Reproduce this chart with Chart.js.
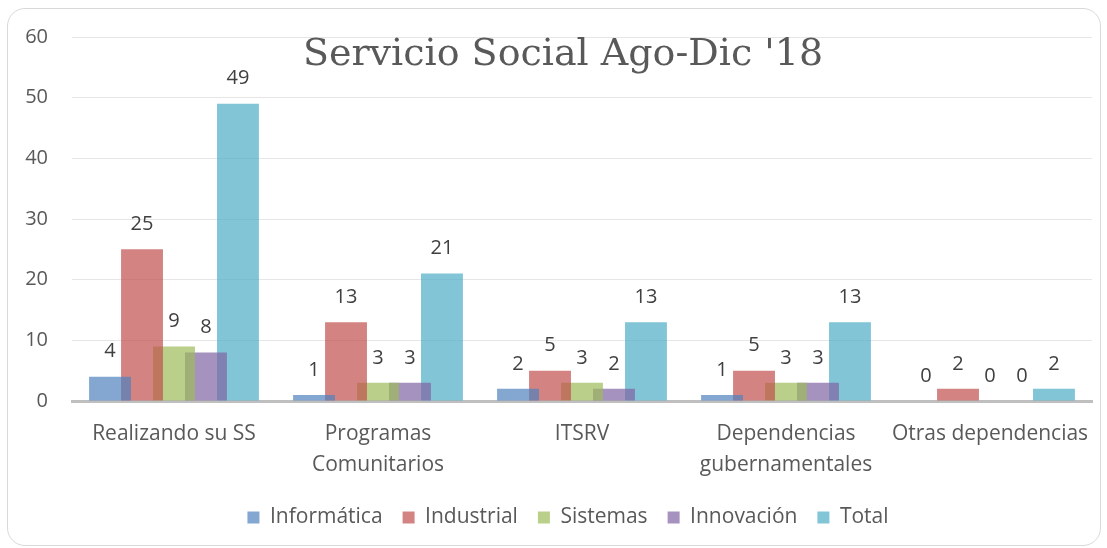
<!DOCTYPE html>
<html>
<head>
<meta charset="utf-8">
<script src="https://cdn.jsdelivr.net/npm/chart.js@4.4.1/dist/chart.umd.min.js"></script>
<style>
  html, body { margin: 0; padding: 0; background: #fff; }
  .frame {
    position: absolute; left: 7px; top: 8px; width: 1092px; height: 536px;
    border: 1.5px solid #d9d9d9; border-radius: 18px;
  }
  .wrap { position: absolute; left: 0; top: 0; width: 1107px; height: 548px; }
</style>
</head>
<body>
<div class="frame"></div>
<div class="wrap"><canvas id="chart"></canvas></div>
<script>
const categories = [
  "Realizando su SS",
  ["Programas", "Comunitarios"],
  "ITSRV",
  ["Dependencias", "gubernamentales"],
  "Otras dependencias",
];
const seriesNames = ["Informática", "Industrial", "Sistemas", "Innovación", "Total"];
const informatica = [4, 1, 2, 1, 0];
const industrial = [25, 13, 5, 5, 2];
const sistemas = [9, 3, 3, 3, 0];
const innovacion = [8, 3, 2, 3, 0];
const total = [49, 21, 13, 13, 2];
const seriesColors = [
  "rgba(79, 129, 189, 0.7)",
  "rgba(192, 80, 77, 0.7)",
  "rgba(155, 187, 89, 0.7)",
  "rgba(128, 100, 162, 0.7)",
  "rgba(75, 172, 198, 0.7)",
];
const titleText = "Servicio Social Ago-Dic '18";

function main() {
  const ctx = document.querySelector("#chart");
  const allValues = [informatica, industrial, sistemas, innovacion, total];

  // etiquetas de valor sobre cada barra
  const valueLabels = {
    id: "valueLabels",
    afterDatasetsDraw(chart) {
      const c = chart.ctx;
      c.save();
      c.font = "20px 'Open Sans'";
      c.fillStyle = "#404040";
      c.textAlign = "center";
      c.textBaseline = "middle";
      chart.data.datasets.forEach((ds, i) => {
        chart.getDatasetMeta(i).data.forEach((bar, j) => {
          c.fillText(String(ds.data[j]), bar.x, bar.y - 25);
        });
      });
      c.restore();
    },
  };

  // título encima del área de datos
  const chartTitle = {
    id: "chartTitle",
    afterDraw(chart) {
      const c = chart.ctx;
      c.save();
      c.font = "38px 'DejaVu Serif'";
      c.fillStyle = "#595959";
      c.textAlign = "center";
      c.textBaseline = "middle";
      c.fillText(titleText, 563, 55);
      c.restore();
    },
  };

  // mover la leyenda un poco a la derecha
  const legendShift = {
    id: "legendShift",
    afterLayout(chart) {
      chart.legend.left += 22;
      chart.legend.right += 22;
    },
  };

  new Chart(ctx, {
    type: "bar",
    data: {
      labels: categories,
      datasets: seriesNames.map((name, i) => ({
        label: name,
        data: allValues[i],
        backgroundColor: seriesColors[i],
        borderWidth: 0,
        categoryPercentage: 0.784,
        barPercentage: 1.31,
      })),
    },
    options: {
      responsive: false,
      animation: false,
      layout: { padding: { top: 37, left: 0, right: 15, bottom: 10 } },
      plugins: {
        title: { display: false },
        tooltip: { enabled: false },
        legend: {
          position: "bottom",
          labels: {
            font: { family: "Open Sans", size: 21 },
            color: "#595959",
            boxWidth: 12,
            boxHeight: 12,
            padding: 20,
          },
        },
      },
      scales: {
        x: {
          grid: { display: false },
          border: { color: "#bfbfbf", width: 3 },
          ticks: {
            font: { family: "Open Sans", size: 21, lineHeight: 1.45 },
            color: "#595959",
            padding: 10,
            maxRotation: 0,
            autoSkip: false,
          },
          afterFit(scale) {
            scale.height = 86;
          },
        },
        y: {
          min: 0,
          max: 60,
          grid: { color: "#e6e6e6", drawTicks: false },
          border: { display: false },
          ticks: {
            stepSize: 10,
            font: { family: "Open Sans", size: 20 },
            color: "#595959",
            padding: 24,
          },
          afterFit(scale) {
            scale.width = 72;
          },
        },
      },
    },
    plugins: [valueLabels, chartTitle, legendShift],
  });
}

document.querySelector("#chart").width = 1107;
document.querySelector("#chart").height = 548;
main();
</script>
</body>
</html>
